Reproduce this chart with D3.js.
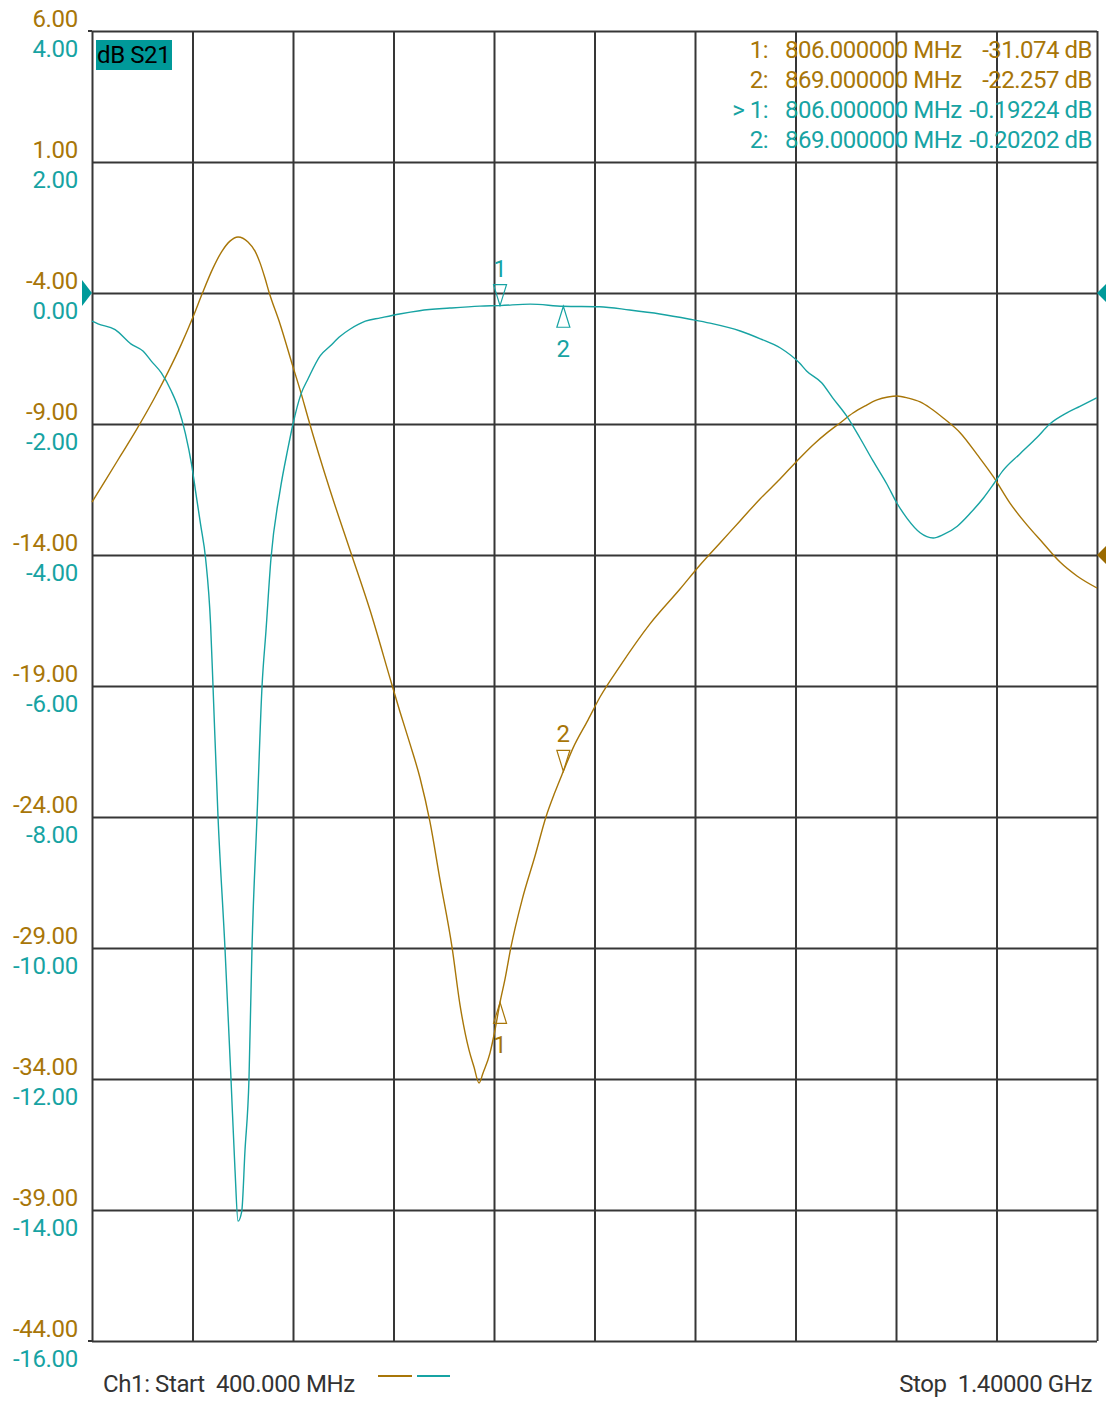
<!DOCTYPE html>
<html><head><meta charset="utf-8">
<script src="https://cdn.jsdelivr.net/npm/d3@7"></script>
<style>
body{margin:0;background:#fff}
svg{display:block;font-family:Roboto,"Liberation Sans",sans-serif}
</style>
</head><body>
<svg id="c" width="1106" height="1405"></svg>
<script>
// ---- data ----
const freqTicks = [400, 500, 600, 700, 800, 900, 1000, 1100, 1200, 1300, 1400];
const goldTicks = [6, 1, -4, -9, -14, -19, -24, -29, -34, -39, -44];
const tealTicks = [4, 2, 0, -2, -4, -6, -8, -10, -12, -14, -16];

const tealFreq = [400, 406, 423, 439, 451, 459, 469, 479, 486, 493, 499, 503, 508, 513, 518, 520.4, 525.4, 532.3, 538.3, 542.3, 545.3, 549, 552.2, 556.2, 559.2, 564.2, 569.2, 573.1, 578.1, 587.1, 595, 600, 608, 615, 627, 637, 647, 657, 672, 687, 706, 726, 756, 786, 806, 836, 869, 905, 935, 965, 995, 1015, 1045, 1065, 1085, 1104, 1111, 1126, 1137, 1151, 1164, 1177, 1191, 1201, 1211, 1224, 1237, 1247, 1261, 1274, 1287, 1297, 1306, 1323, 1340, 1353, 1370, 1383, 1400];
const tealDb = [-0.43, -0.47, -0.56, -0.78, -0.89, -1.04, -1.22, -1.50, -1.76, -2.15, -2.61, -3.02, -3.53, -4.05, -5.06, -6.0, -8.0, -10.0, -12.0, -13.39, -14.17, -14.02, -13.10, -12.0, -10.0, -8.0, -6.0, -5.16, -4.05, -3.02, -2.37, -2.0, -1.54, -1.31, -0.96, -0.81, -0.66, -0.55, -0.43, -0.38, -0.32, -0.27, -0.23, -0.20, -0.19224, -0.17, -0.20202, -0.21, -0.26, -0.32, -0.40, -0.46, -0.58, -0.70, -0.84, -1.07, -1.19, -1.37, -1.60, -1.88, -2.21, -2.56, -2.92, -3.21, -3.44, -3.66, -3.74, -3.69, -3.56, -3.36, -3.13, -2.92, -2.72, -2.46, -2.21, -2.00, -1.83, -1.73, -1.60];

const goldFreq = [400, 412.9, 428.9, 442.8, 462.7, 475.6, 488.6, 500.5, 509.5, 520.4, 529.4, 537.3, 545.3, 555.2, 562.2, 567.2, 572.1, 576.1, 587.1, 600, 608, 615, 636.8, 656.7, 676.6, 698.5, 706.5, 716.4, 726.4, 736.3, 746.3, 758.2, 766.2, 775.1, 780.1, 785.1, 789.1, 796, 801, 806, 811, 816.9, 827.9, 840.8, 851.7, 860.7, 869, 878.6, 893.5, 905.5, 925.4, 955.2, 985.1, 1005, 1024.9, 1044.8, 1064.7, 1084.6, 1101.5, 1117.4, 1131.3, 1144.3, 1157.2, 1169.2, 1181.1, 1192, 1201, 1212, 1224, 1234, 1247, 1264, 1281, 1297, 1313.4, 1330.3, 1346.2, 1363.2, 1380.1, 1400];
const goldDb = [-11.98, -11.18, -10.18, -9.31, -7.97, -7.02, -5.98, -4.92, -4.04, -3.05, -2.40, -2.02, -1.86, -2.05, -2.40, -2.85, -3.43, -3.96, -5.18, -6.82, -7.82, -8.77, -11.52, -13.81, -16.10, -18.96, -19.99, -21.21, -22.51, -24.19, -26.40, -28.96, -31.18, -32.89, -33.54, -34.15, -33.77, -33.01, -32.13, -31.074, -30.18, -28.96, -27.17, -25.49, -24.00, -23.05, -22.257, -21.37, -20.30, -19.42, -18.24, -16.63, -15.30, -14.38, -13.54, -12.70, -11.86, -11.10, -10.41, -9.80, -9.34, -8.96, -8.58, -8.31, -8.08, -7.97, -7.93, -8.01, -8.16, -8.39, -8.77, -9.34, -10.18, -11.02, -12.02, -12.85, -13.54, -14.27, -14.80, -15.26];

const markerNames = ["1", "2"];
const markerFreq = [806, 869];
const goldMarkerDb = [-31.074, -22.257];
const tealMarkerDb = [-0.19224, -0.20202];
const goldRef = -14;
const tealRef = 0;
const traceTitle = "dB S21";
const startLabel = "Ch1: Start  400.000 MHz";
const stopLabel = "Stop  1.40000 GHz";

// ---- layout / style ----
const L = 92, R = 1097, T = 31, B = 1341;
const GOLD = "#a87608", TEAL = "#17a3a3", GRID = "#363636";
const FS = 24;
const loc = d3.formatLocale({decimal: ".", thousands: ",", grouping: [3], currency: ["", ""], minus: "-"});

const svg = d3.select("#c");
const x = d3.scaleLinear().domain([400, 1400]).range([L, R]);
const yGold = d3.scaleLinear().domain([-44, 6]).range([B, T]);
const yTeal = d3.scaleLinear().domain([-16, 4]).range([B, T]);

// grid
svg.append("g").attr("transform", `translate(0,${B})`)
  .call(d3.axisBottom(x).tickValues(freqTicks).tickSize(-(B - T)).tickFormat(""))
  .call(g => g.select(".domain").remove())
  .selectAll("line").attr("stroke", GRID).attr("stroke-width", 2);
svg.append("g").attr("transform", `translate(${L},0)`)
  .call(d3.axisLeft(yTeal).tickValues(tealTicks).tickSize(-(R - L)).tickFormat(""))
  .call(g => g.select(".domain").remove())
  .selectAll("line").attr("stroke", GRID).attr("stroke-width", 2);
[T, B].forEach(yy => svg.append("line").attr("x1", 88).attr("x2", L).attr("y1", yy).attr("y2", yy)
  .attr("stroke", GRID).attr("stroke-width", 2));

// left tick labels
function labelAxis(scale, ticks, color, dy) {
  svg.append("g").attr("transform", `translate(${L},0)`)
    .call(d3.axisLeft(scale).tickValues(ticks).tickSize(0).tickPadding(14).tickFormat(loc.format(".2f")))
    .call(g => g.select(".domain").remove())
    .call(g => g.selectAll("text").attr("dy", dy).attr("fill", color)
      .attr("font-size", FS).attr("font-family", "Roboto, sans-serif").attr("letter-spacing", "-0.3"));
}
labelAxis(yGold, goldTicks, GOLD, -5);
labelAxis(yTeal, tealTicks, TEAL, 25);

// traces
const goldLine = d3.line().x(d => x(d[0])).y(d => yGold(d[1])).curve(d3.curveMonotoneX);
const tealLine = d3.line().x(d => x(d[0])).y(d => yTeal(d[1])).curve(d3.curveMonotoneX);
svg.append("path").datum(d3.zip(goldFreq, goldDb)).attr("d", goldLine)
  .attr("fill", "none").attr("stroke", GOLD).attr("stroke-width", 1.4);
svg.append("path").datum(d3.zip(tealFreq, tealDb)).attr("d", tealLine)
  .attr("fill", "none").attr("stroke", TEAL).attr("stroke-width", 1.4);

// markers
function marker(f, v, scale, color, below, name) {
  const mx = x(f), my = scale(v), w = 6.5, h = 21;
  const by = below ? my + h : my - h;
  svg.append("path").attr("d", `M${mx},${my}L${mx - w},${by}L${mx + w},${by}Z`)
    .attr("fill", "none").attr("stroke", color).attr("stroke-width", 1.2);
  svg.append("text").attr("x", mx).attr("y", below ? by + 30 : by - 8)
    .attr("text-anchor", "middle").attr("fill", color).attr("font-size", FS).text(name);
}
marker(markerFreq[0], tealMarkerDb[0], yTeal, TEAL, false, markerNames[0]);
marker(markerFreq[1], tealMarkerDb[1], yTeal, TEAL, true, markerNames[1]);
marker(markerFreq[0], goldMarkerDb[0], yGold, GOLD, true, markerNames[0]);
marker(markerFreq[1], goldMarkerDb[1], yGold, GOLD, false, markerNames[1]);

// reference triangles
const ty = yTeal(tealRef), gy = yGold(goldRef);
svg.append("path").attr("d", `M${L},${ty}L${L - 10},${ty - 13}L${L - 10},${ty + 13}Z`).attr("fill", "#009a9a");
svg.append("path").attr("d", `M${R},${ty}L${R + 12},${ty - 12}L${R + 24},${ty}L${R + 12},${ty + 12}Z`).attr("fill", "#009a9a");
svg.append("path").attr("d", `M${R},${gy}L${R + 12},${gy - 12}L${R + 24},${gy}L${R + 12},${gy + 12}Z`).attr("fill", "#9a6a00");

// title box
svg.append("rect").attr("x", 96).attr("y", 40).attr("width", 76).attr("height", 30).attr("fill", "#009999");
svg.append("text").attr("x", 97).attr("y", 63).attr("font-size", FS).attr("fill", "#000")
  .attr("letter-spacing", "-0.4").text(traceTitle);

// marker readout
const rows = [
  {p: "1:", f: markerFreq[0], v: loc.format(".3f")(goldMarkerDb[0]), c: GOLD},
  {p: "2:", f: markerFreq[1], v: loc.format(".3f")(goldMarkerDb[1]), c: GOLD},
  {p: "> 1:", f: markerFreq[0], v: loc.format(".5f")(tealMarkerDb[0]), c: TEAL},
  {p: "2:", f: markerFreq[1], v: loc.format(".5f")(tealMarkerDb[1]), c: TEAL}
];
rows.forEach((r, i) => {
  const yy = 58 + i * 30;
  const g = svg.append("g").attr("fill", r.c).attr("font-size", FS).attr("letter-spacing", "-0.5");
  g.append("text").attr("x", 768).attr("y", yy).attr("text-anchor", "end").text(r.p);
  g.append("text").attr("x", 785).attr("y", yy).text(loc.format(".6f")(r.f) + " MHz");
  g.append("text").attr("x", 1092).attr("y", yy).attr("text-anchor", "end").text(r.v + " dB");
});

// footer
svg.append("text").attr("x", 103).attr("y", 1392).attr("font-size", FS).attr("fill", "#333")
  .attr("letter-spacing", "-0.4").style("white-space", "pre").text(startLabel);
svg.append("text").attr("x", 1092).attr("y", 1392).attr("font-size", FS).attr("fill", "#333")
  .attr("text-anchor", "end").attr("letter-spacing", "-0.4").style("white-space", "pre").text(stopLabel);
svg.append("line").attr("x1", 378).attr("x2", 412).attr("y1", 1376).attr("y2", 1376).attr("stroke", GOLD).attr("stroke-width", 2);
svg.append("line").attr("x1", 417).attr("x2", 450).attr("y1", 1376).attr("y2", 1376).attr("stroke", TEAL).attr("stroke-width", 2);
</script>
</body></html>
